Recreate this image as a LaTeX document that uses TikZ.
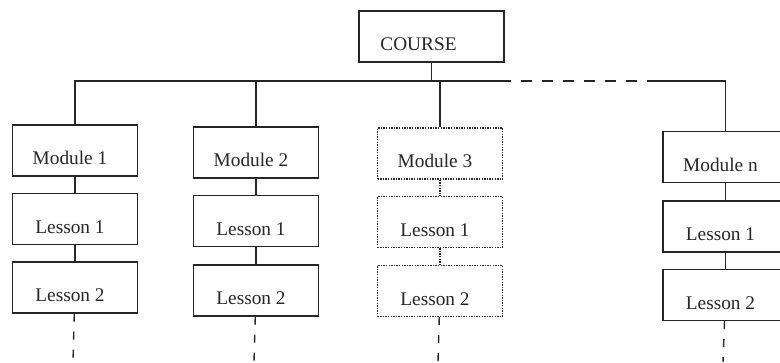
\documentclass[tikz,border=0pt]{standalone}
\usepackage{fontspec}
\setmainfont{Liberation Serif}

\begin{document}
\begin{tikzpicture}[x=1pt,y=-1pt,black!85,
  box/.style={draw,line width=1.4pt,minimum width=125pt,minimum height=51pt,inner sep=0pt,
    font=\fontsize{19.3}{23}\selectfont,text height=28pt,text depth=0pt,
    execute at end node={\hspace*{#1}}},
  box/.default=10pt,
  dotbox/.style={box,dash pattern=on 1.4pt off 1.2pt},
  link/.style={line width=1.4pt},
  dots/.style={line width=1.4pt,dash pattern=on 1.4pt off 1.2pt},
  cont/.style={line width=1.4pt,dash pattern=on #1 off 10pt},
  cont/.default=8pt]

\useasboundingbox (0,0) rectangle (780,362);
\clip (0,0) rectangle (780,362);

\node[box=26pt,minimum width=145pt] (course) at (431.5,36.5) {COURSE};

% first column
\node[box] (m1) at (75,150.5) {Module 1};
\node[box] (l11) at (75,219) {Lesson 1};
\node[box] (l12) at (75,287.5) {Lesson 2};

% second column
\node[box] (m2) at (256,152.5) {Module 2};
\node[box] (l21) at (256,221) {Lesson 1};
\node[box] (l22) at (256,290.5) {Lesson 2};

% third column (dotted)
\node[dotbox] (m3) at (440,153.5) {Module 3};
\node[dotbox] (l31) at (440,222) {Lesson 1};
\node[dotbox] (l32) at (440,291) {Lesson 2};

% last column
\node[box] (mn) at (725.5,157) {Module n};
\node[box] (ln1) at (725.5,226.5) {Lesson 1};
\node[box] (ln2) at (725.5,295) {Lesson 2};

% the bus under COURSE
\coordinate (busA) at (500,81);
\coordinate (busB) at (652,81);
\draw[link] (m1) |- (busA);
\draw[cont=11pt] (busA) -- (busB);
\draw[link] (busB) -| (mn);
\draw[link] (course) -- (course |- busA);
\draw[link] (m2) -- (m2 |- busA);
\draw[link] (m3) -- (m3 |- busA);

\draw[link] (m1) -- (l11);
\draw[link] (l11) -- (l12);
\draw[link] (m2) -- (l21);
\draw[link] (l21) -- (l22);
\draw[dots] (m3) -- (l31);
\draw[dots] (l31) -- (l32);
\draw[link] (mn) -- (ln1);
\draw[link] (ln1) -- (ln2);

% more lessons below
\coordinate (e1) at (73,362);
\coordinate (e2) at (254,362);
\coordinate (e3) at (438,362);
\coordinate (en) at (723,362);
\draw[cont] (l12) -- (e1);
\draw[cont] (l22) -- (e2);
\draw[cont] (l32) -- (e3);
\draw[cont] (ln2) -- (en);

\end{tikzpicture}
\end{document}
